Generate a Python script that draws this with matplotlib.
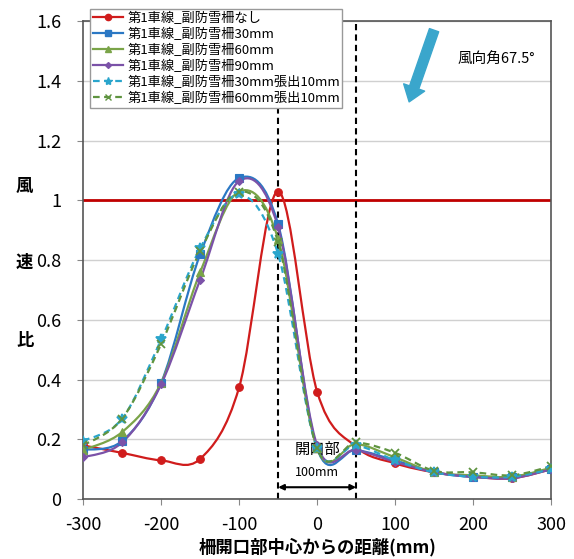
import numpy as np
import matplotlib.pyplot as plt
from matplotlib.path import Path
from matplotlib.patches import PathPatch
from matplotlib.lines import Line2D

plt.rcParams['font.family'] = ['Noto Sans CJK JP', 'DejaVu Sans']
plt.rcParams['axes.unicode_minus'] = False

# 距離 (mm)
x = [-300, -250, -200, -150, -100, -50, 0, 50, 100, 150, 200, 250, 300]

y_none = [0.18, 0.155, 0.13, 0.135, 0.375, 1.03, 0.36, 0.175, 0.12, 0.09, 0.075, 0.07, 0.10]
y_30 = [0.165, 0.195, 0.39, 0.82, 1.075, 0.92, 0.17, 0.165, 0.13, 0.09, 0.075, 0.075, 0.10]
y_60 = [0.165, 0.225, 0.39, 0.76, 1.03, 0.87, 0.17, 0.185, 0.14, 0.09, 0.08, 0.075, 0.105]
y_90 = [0.14, 0.19, 0.385, 0.735, 1.065, 0.91, 0.18, 0.165, 0.125, 0.09, 0.075, 0.07, 0.10]
y_30h = [0.195, 0.27, 0.535, 0.84, 1.02, 0.82, 0.17, 0.18, 0.13, 0.09, 0.075, 0.075, 0.10]
y_60h = [0.18, 0.27, 0.52, 0.83, 1.03, 0.86, 0.17, 0.19, 0.155, 0.095, 0.09, 0.08, 0.11]

labels = ['第1車線_副防雪柵なし', '第1車線_副防雪柵30mm', '第1車線_副防雪柵60mm',
          '第1車線_副防雪柵90mm', '第1車線_副防雪柵30mm張出10mm', '第1車線_副防雪柵60mm張出10mm']
series = [y_none, y_30, y_60, y_90, y_30h, y_60h]
colors = ['#d01c1c', '#2b78c4', '#7aa448', '#7b52a8', '#2aa5cc', '#5f9440']
markers = ['o', 's', '^', 'D', '*', 'x']
msizes = [5.5, 5.5, 5.5, 4, 7, 6]
styles = ['-', '-', '-', '-', (0, (3, 2)), (0, (3, 2))]


def smooth_path(px, py):
    # excel風のなめらか線 (ベジェ曲線で描画)
    px = np.asarray(px, float)
    py = np.asarray(py, float)
    n = len(px)
    verts = [(px[0], py[0])]
    codes = [Path.MOVETO]
    for i in range(n - 1):
        i0 = max(i - 1, 0)
        i3 = min(i + 2, n - 1)
        c1 = (px[i] + (px[i + 1] - px[i0]) / 6, py[i] + (py[i + 1] - py[i0]) / 6)
        c2 = (px[i + 1] - (px[i3] - px[i]) / 6, py[i + 1] - (py[i3] - py[i]) / 6)
        verts += [c1, c2, (px[i + 1], py[i + 1])]
        codes += [Path.CURVE4] * 3
    return Path(verts, codes)


fig = plt.figure(figsize=(5.74, 5.59), dpi=100)
ax = fig.add_axes([0.145, 0.107, 0.815, 0.855])

ax.set_xlim(-300, 300)
ax.set_ylim(0, 1.6)
ax.set_yticks(np.arange(0, 1.61, 0.2))
ax.set_yticklabels(['0', '0.2', '0.4', '0.6', '0.8', '1', '1.2', '1.4', '1.6'])
ax.set_xticks([-300, -200, -100, 0, 100, 200, 300])
ax.tick_params(labelsize=13, length=4, color='#888888')
ax.tick_params(axis='y', pad=12)
ax.tick_params(axis='x', pad=8)
ax.grid(axis='y', color='#d0d0d0', linewidth=1)
ax.set_axisbelow(True)
for s in ax.spines.values():
    s.set_color('#555555')
    s.set_linewidth(1.2)

ax.axhline(1.0, color='#c00000', linewidth=2, zorder=2)
for xv in [-50, 50]:
    ax.axvline(xv, color='black', linestyle=(0, (3, 2)), linewidth=1.5, zorder=2)

handles = []
for ys, c, m, ms, ls, lab in zip(series, colors, markers, msizes, styles, labels):
    patch = PathPatch(smooth_path(x, ys), facecolor='none', edgecolor=c,
                      linewidth=1.6, linestyle=ls, zorder=3)
    ax.add_patch(patch)
    ax.plot(x, ys, linestyle='none', marker=m, color=c, markersize=ms,
            markeredgewidth=1.3 if m in ('x', '*') else 0.8, zorder=4)
    handles.append(Line2D([], [], color=c, linestyle=ls, linewidth=1.6,
                          marker=m, markersize=ms - 1))

leg = fig.legend(handles, labels, loc='upper left', bbox_to_anchor=(0.157, 0.984),
                 fontsize=9.5, labelspacing=0.22, handlelength=2.3, handletextpad=0.3,
                 borderpad=0.2, borderaxespad=0, fancybox=False, framealpha=1)
leg.get_frame().set_edgecolor('#999999')
leg.get_frame().set_linewidth(1)

# 開口部
ax.annotate('', xy=(-50, 0.04), xytext=(50, 0.04),
            arrowprops=dict(arrowstyle='<|-|>', color='black', lw=1.5,
                            mutation_scale=8, shrinkA=0, shrinkB=0))
ax.text(0, 0.165, '開口部', ha='center', va='center', fontsize=11)
ax.text(0, 0.09, '100mm', ha='center', va='center', fontsize=9)

# 風向
ax.annotate('', xy=(118, 1.33), xytext=(150, 1.57),
            arrowprops=dict(arrowstyle='simple,head_width=1.6,head_length=1.1,tail_width=0.7',
                            color='#3aa6cc', shrinkA=0, shrinkB=0),
            zorder=5)
ax.text(180, 1.475, '風向角67.5°', ha='left', va='center', fontsize=10.5)

for ch, yv in zip(['風', '速', '比'], [1.05, 0.79, 0.53]):
    ax.text(-0.125, yv, ch, transform=ax.get_yaxis_transform(), ha='center',
            va='center', fontsize=12.5, fontweight='bold')

ax.set_xlabel('柵開口部中心からの距離(mm)', fontsize=12.5, fontweight='bold', labelpad=3)

fig.savefig('out.png', dpi=100)
